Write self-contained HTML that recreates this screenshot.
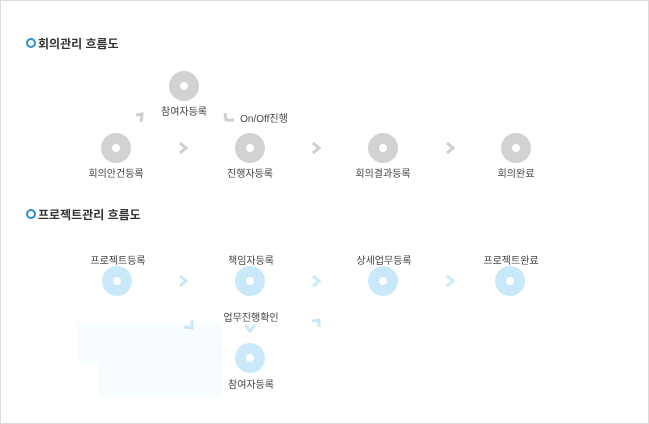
<!DOCTYPE html>
<html><head><meta charset="utf-8"><style>
body{margin:0;width:649px;height:424px;background:#fff;font-family:"Liberation Sans","Noto Sans CJK KR",sans-serif;}
.f{position:absolute;left:0;top:0;width:647px;height:422px;border:1px solid #dcdcdc;}
.t{position:absolute;font-size:10px;color:#444;white-space:nowrap;transform:translateX(-50%);}
.h{position:absolute;font-size:12px;font-weight:bold;color:#333;}
.c{position:absolute;width:30px;height:30px;border-radius:50%;}
.c::after{content:"";position:absolute;left:11px;top:11px;width:8px;height:8px;border-radius:50%;background:#fff;}
.g{background:#d2d2d2}.b{background:#c9e9fb}
</style></head><body><div class="f"></div>
<div style="position:absolute;left:26px;top:38px;width:6px;height:6px;border:2px solid #2a8fcf;border-radius:50%"></div>
<div class="h" style="left:38px;top:35px">회의관리 흐름도</div>
<div style="position:absolute;left:26px;top:209px;width:6px;height:6px;border:2px solid #2a8fcf;border-radius:50%"></div>
<div class="h" style="left:38px;top:206px">프로젝트관리 흐름도</div>

<div style="position:absolute;left:78px;top:323px;width:144px;height:40px;background:#f7fcfe"></div>
<div style="position:absolute;left:98px;top:363px;width:124px;height:34px;background:#f7fcfe"></div>

<svg style="position:absolute;left:0;top:0" width="649" height="424" fill="none" stroke-width="3">
<g stroke="#cfcfcf">
<polyline points="180,143 186,148 180,153"/>
<polyline points="313,143 319,148 313,153"/>
<polyline points="447,143 453,148 447,153"/>
<polyline points="136,115 142,114 141,122"/>
<polyline points="225,113 226,120 234,120"/>
</g>
<g stroke="#c9e9fb">
<polyline points="180,276 186,281 180,286"/>
<polyline points="313,276 319,281 313,286"/>
<polyline points="447,276 453,281 447,286"/>
<polyline points="245,325 250,331 255,325"/>
<polyline points="184,327 192,328 192,320"/>
<polyline points="312,321 319,320 319,327"/>
</g>
</svg>

<div class="c g" style="left:101px;top:133px"></div>
<div class="c g" style="left:169px;top:71px"></div>
<div class="c g" style="left:235px;top:133px"></div>
<div class="c g" style="left:368px;top:133px"></div>
<div class="c g" style="left:501px;top:133px"></div>
<div class="t" style="left:116px;top:165px">회의안건등록</div>
<div class="t" style="left:184px;top:103px">참여자등록</div>
<div class="t" style="left:264px;top:110px">On/Off진행</div>
<div class="t" style="left:250px;top:165px">진행자등록</div>
<div class="t" style="left:383px;top:165px">회의결과등록</div>
<div class="t" style="left:516px;top:165px">회의완료</div>

<div class="c b" style="left:102px;top:266px"></div>
<div class="c b" style="left:235px;top:266px"></div>
<div class="c b" style="left:368px;top:266px"></div>
<div class="c b" style="left:495px;top:266px"></div>
<div class="c b" style="left:235px;top:343px"></div>
<div class="t" style="left:118px;top:252px">프로젝트등록</div>
<div class="t" style="left:251px;top:252px">책임자등록</div>
<div class="t" style="left:384px;top:252px">상세업무등록</div>
<div class="t" style="left:511px;top:252px">프로젝트완료</div>
<div class="t" style="left:251px;top:309px">업무진행확인</div>
<div class="t" style="left:251px;top:376px">참여자등록</div>
</body></html>
